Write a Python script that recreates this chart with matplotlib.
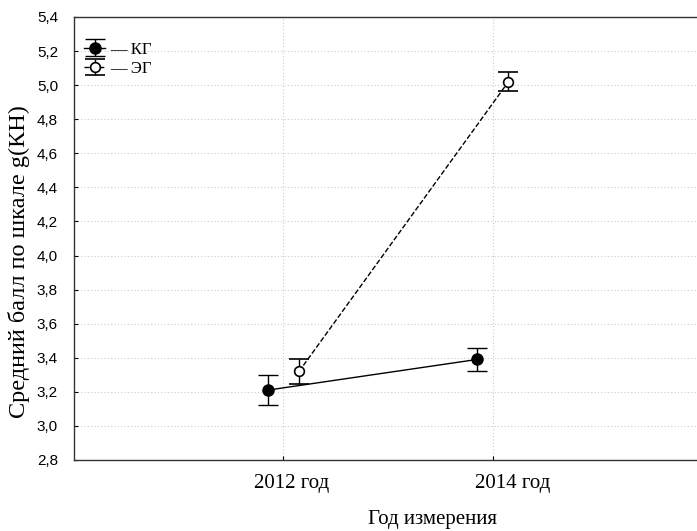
import numpy as np
import matplotlib.pyplot as plt

# данные
years = ['2012 год', '2014 год']
kg_mean = [3.21, 3.39]
kg_err = [0.09, 0.07]
eg_mean = [3.32, 5.02]
eg_err = [0.075, 0.055]

x = np.arange(len(years))
shift = 0.075
label_dx = np.array([0.038, 0.095])  # подписи в оригинале сдвинуты вправо

fig = plt.figure(figsize=(6.97, 5.31), dpi=100)
ax = fig.add_axes([74 / 697, 71 / 531, 623 / 697, 443 / 531])

ax.errorbar(x - shift, kg_mean, yerr=kg_err, fmt='-o', color='black',
            mfc='black', ms=8, lw=1, capsize=7.5, elinewidth=1, capthick=1,
            label='— КГ')
ax.errorbar(x + shift, eg_mean, yerr=eg_err, fmt='--o', color='black',
            mfc='white', mew=1.2, ms=7, lw=1, capsize=7.5, elinewidth=1,
            capthick=1, label='— ЭГ')

ax.set_xlim(-1, 1.976)
ax.set_ylim(2.8, 5.4)
ax.set_xticks(x, labels=['', ''])
ax.set_xticks(x + label_dx, labels=years, minor=True)
for lbl in ax.get_xticklabels(minor=True):
    lbl.set_family('Liberation Serif')
    lbl.set_fontsize(15)
yt = np.arange(2.8, 5.41, 0.2)
ax.set_yticks(yt)
ax.set_yticklabels([f'{v:.1f}'.replace('.', ',') for v in yt],
                   family='Liberation Sans', fontsize=11)
ax.tick_params(direction='in', length=3, width=0.8)
ax.tick_params(axis='y', pad=11.5)
ax.tick_params(axis='x', which='minor', length=0, pad=10)
ax.grid(True, ls=(0, (1, 2)), color='#cccccc', lw=0.8)
ax.spines['right'].set_visible(False)
for s in ['left', 'bottom', 'top']:
    ax.spines[s].set_linewidth(1)
    ax.spines[s].set_color('#333333')

ax.set_xlabel('Год измерения', family='Liberation Serif', fontsize=15)
ax.xaxis.set_label_coords(0.575, -0.113)
ax.set_ylabel('Средний балл по шкале g(КН)', family='Liberation Serif',
              fontsize=17.5)
ax.yaxis.set_label_coords(-0.071, 0.449)

leg = ax.legend(loc='upper left', bbox_to_anchor=(3 / 623, 1 - 18 / 443),
                frameon=False, handlelength=1.3, handletextpad=0.3,
                borderaxespad=0, labelspacing=0.2,
                prop={'family': 'Liberation Serif', 'size': 12})

fig.savefig('out.png', dpi=100)
